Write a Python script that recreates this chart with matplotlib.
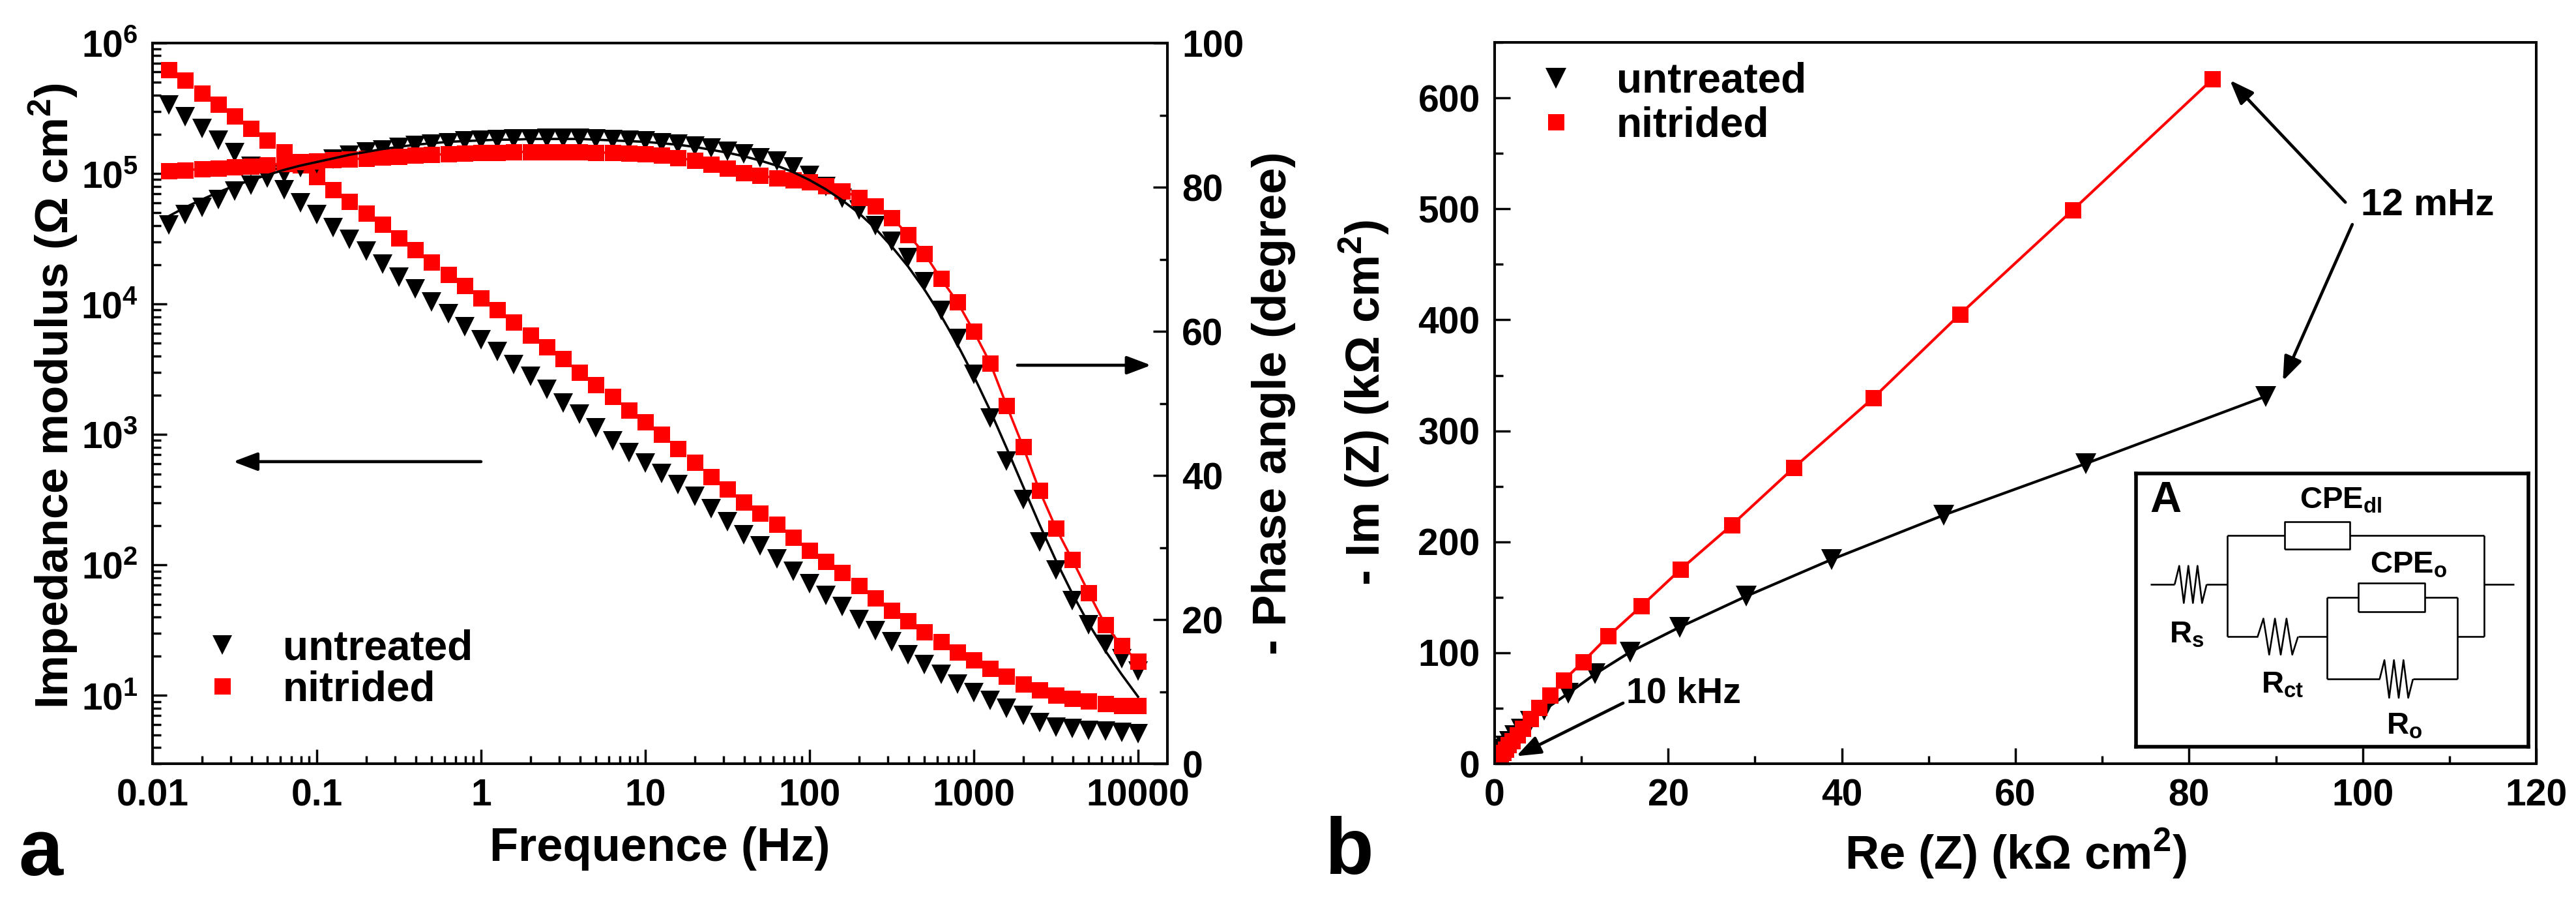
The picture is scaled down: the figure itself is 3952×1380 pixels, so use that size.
import matplotlib
matplotlib.use('Agg')
import matplotlib.pyplot as plt
from matplotlib.lines import Line2D
from matplotlib import ticker

plt.rcParams['font.family'] = ['Liberation Sans', 'DejaVu Sans']
plt.rcParams['font.weight'] = 'bold'
plt.rcParams['mathtext.fontset'] = 'custom'
plt.rcParams['mathtext.rm'] = 'Liberation Sans:bold'
plt.rcParams['mathtext.bf'] = 'Liberation Sans:bold'
plt.rcParams['mathtext.it'] = 'Liberation Sans:bold'
plt.rcParams['mathtext.sf'] = 'Liberation Sans'
plt.rcParams['mathtext.default'] = 'rm'

# --- Bode data (Hz, ohm cm2, degree) ---
freq = [0.0126, 0.0158, 0.02, 0.0251, 0.0316, 0.0398, 0.0501, 0.0631, 0.0794, 0.1,
        0.126, 0.158, 0.2, 0.251, 0.316, 0.398, 0.501, 0.631, 0.794, 1.0,
        1.26, 1.58, 2.0, 2.51, 3.16, 3.98, 5.01, 6.31, 7.94, 10.0,
        12.6, 15.8, 20.0, 25.1, 31.6, 39.8, 50.1, 63.1, 79.4, 100.0,
        126, 158, 200, 251, 316, 398, 501, 631, 794, 1000,
        1259, 1585, 1995, 2512, 3162, 3981, 5012, 6310, 7943, 10000]

mod_untreated = [3.36e5, 2.73e5, 2.22e5, 1.81e5, 1.44e5, 1.14e5, 9.25e4, 7.53e4, 5.97e4, 4.86e4,
                 3.85e4, 3.14e4, 2.55e4, 2.02e4, 1.61e4, 1.31e4, 1.04e4, 8430, 6700, 5310,
                 4320, 3430, 2790, 2210, 1750, 1430, 1130, 897, 731, 603,
                 501, 412, 336, 269, 214, 171, 140, 112, 89.5, 71.6,
                 58.6, 48.1, 38.4, 31.5, 25.8, 20.6, 17.3, 14.5, 12.2, 10.5,
                 9.12, 8.0, 7.05, 6.22, 5.75, 5.56, 5.43, 5.31, 5.19, 5.11]

mod_nitrided = [6.22e5, 5.2e5, 4.12e5, 3.4e5, 2.75e5, 2.22e5, 1.81e5, 1.47e5, 1.17e5, 9.5e4,
                7.53e4, 6.12e4, 4.99e4, 4.06e4, 3.22e4, 2.62e4, 2.1e4, 1.69e4, 1.38e4, 1.11e4,
                9020, 7230, 5790, 4670, 3800, 3010, 2420, 1950, 1540, 1250,
                1000, 776, 611, 475, 380, 304, 249, 204, 163, 130,
                107, 87.5, 69.8, 55.8, 44.7, 37.5, 30.7, 25.7, 21.6, 18.8,
                16.2, 14.0, 12.2, 11.0, 10.0, 9.5, 9.06, 8.61, 8.4, 8.32]

phase_untreated = [74.8, 76.2, 77.2, 78.3, 79.5, 80.3, 81.4, 81.9, 82.7, 83.3,
                   83.9, 84.4, 84.9, 85.2, 85.5, 85.8, 86.0, 86.2, 86.4, 86.5,
                   86.6, 86.7, 86.7, 86.8, 86.8, 86.8, 86.7, 86.6, 86.5, 86.4,
                   86.2, 86.0, 85.7, 85.4, 85.0, 84.6, 84.1, 83.6, 82.8, 81.6,
                   80.1, 78.5, 76.8, 74.7, 72.5, 70.2, 66.9, 62.9, 59.0, 54.0,
                   48.0, 42.0, 36.7, 30.8, 26.9, 22.6, 19.3, 16.6, 14.6, 12.9]

phase_untreated_fit = [76.0, 77.2, 78.3, 79.3, 80.2, 81.0, 81.7, 82.4, 83.0, 83.5,
                       84.0, 84.5, 84.9, 85.3, 85.6, 85.9, 86.1, 86.3, 86.4, 86.5,
                       86.6, 86.6, 86.7, 86.7, 86.7, 86.7, 86.6, 86.5, 86.4, 86.3,
                       86.1, 85.9, 85.6, 85.2, 84.8, 84.3, 83.7, 83.0, 82.1, 81.0,
                       79.7, 78.2, 76.4, 74.3, 71.8, 69.0, 65.8, 62.2, 58.2, 53.8,
                       49.0, 43.8, 38.5, 33.2, 28.2, 23.6, 19.4, 15.7, 12.4, 9.3]

phase_nitrided = [82.3, 82.4, 82.5, 82.6, 82.8, 82.9, 83.1, 83.3, 83.5, 83.6,
                  83.8, 83.9, 84.0, 84.2, 84.3, 84.4, 84.5, 84.6, 84.7, 84.8,
                  84.8, 84.9, 84.9, 84.9, 84.9, 84.9, 84.8, 84.8, 84.7, 84.6,
                  84.4, 84.1, 83.7, 83.2, 82.6, 82.0, 81.6, 81.3, 81.0, 80.7,
                  80.2, 79.5, 78.6, 77.4, 75.8, 73.4, 70.8, 67.3, 64.1, 60.0,
                  55.6, 49.7, 44.0, 37.9, 32.7, 28.3, 23.7, 19.3, 16.4, 14.2]

# --- Nyquist data (kohm cm2) ---
re_untreated = [0.05, 0.1, 0.15, 0.2, 0.3, 0.42, 0.56, 0.73, 0.96, 1.26, 1.7, 2.3,
                3.1, 4.1, 5.7, 8.5, 11.6, 15.6, 21.3, 29.0, 38.8, 51.7, 68.1, 88.8]
im_untreated = [0.5, 1.5, 2.5, 3.5, 5.3, 6.7, 8.4, 10.3, 13.0, 16.0, 20.0, 25.4,
                31.2, 38.5, 48.5, 63.5, 81.0, 100.6, 123, 151, 184, 224, 270.5, 331]
re_nitrided = [0.05, 0.1, 0.2, 0.3, 0.5, 0.7, 1.0, 1.3, 1.6, 2.0, 2.6, 3.2, 4.1,
               5.1, 6.4, 8.0, 10.2, 13.1, 16.9, 21.4, 27.3, 34.5, 43.6, 53.6, 66.6, 82.7]
im_nitrided = [0.5, 1.5, 2.5, 4.0, 5.5, 7.5, 10.0, 13.0, 16.8, 20.9, 26.0, 32.0, 40.5,
               50.5, 61.5, 75.5, 92.0, 115, 142, 175, 215, 267, 329.5, 405, 499, 617]

labels = ['untreated', 'nitrided']

RED = '#ff0000'
TICK_FS = 41
LABEL_FS = 52
LEG_FS = 46
SPINE_W = 2.9
OHM = r'$\mathsf{\Omega}$'

fig = plt.figure(figsize=(39.52, 13.8), dpi=100)


def style_spines(ax):
    for s in ax.spines.values():
        s.set_linewidth(SPINE_W)


# ---------------- panel a : Bode ----------------
ax = fig.add_axes([0.0592, 0.1514, 0.394, 0.8007])
ax.set_xscale('log')
ax.set_yscale('log')
h1, = ax.plot(freq, mod_untreated, 'v', color='k', ms=21, mew=0, label=labels[0])
h2, = ax.plot(freq, mod_nitrided, 's', color=RED, ms=18, mew=0, label=labels[1])
ax.set_xlim(0.01, 15100)
ax.set_ylim(3, 1e6)
ax.xaxis.set_major_locator(ticker.LogLocator(base=10, numticks=20))
ax.xaxis.set_minor_locator(ticker.LogLocator(base=10, subs=range(2, 10), numticks=20))
ax.xaxis.set_major_formatter(ticker.FuncFormatter(lambda v, p: f'{v:g}'))
ax.yaxis.set_major_locator(ticker.LogLocator(base=10, numticks=20))
ax.yaxis.set_minor_locator(ticker.LogLocator(base=10, subs=range(2, 10), numticks=20))
ax.tick_params(which='both', direction='in', top=False, right=False, width=2.5,
               labelsize=TICK_FS)
ax.tick_params(which='major', length=16)
ax.tick_params(which='minor', length=9)
ax.tick_params(axis='x', pad=16)
ax.tick_params(axis='y', pad=16)
ax.set_xlabel('Frequence (Hz)', fontsize=LABEL_FS, fontweight='bold', labelpad=14)
ax.set_ylabel('Impedance modulus (' + OHM + r' cm$^2$)', fontsize=51,
              fontweight='bold')
ax.yaxis.set_label_coords(-0.072, 0.51)
style_spines(ax)

axp = ax.twinx()
axp.plot(freq, phase_untreated, 'v', color='k', ms=21, mew=0)
axp.plot(freq, phase_nitrided, 's-', color=RED, ms=18, mew=0, lw=2.6)
axp.plot(freq, phase_untreated_fit, '-', color='k', lw=2.6)
axp.set_ylim(0, 100)
axp.yaxis.set_major_locator(ticker.MultipleLocator(20))
axp.yaxis.set_minor_locator(ticker.MultipleLocator(10))
axp.tick_params(which='both', direction='in', width=2.5, labelsize=TICK_FS, pad=16)
axp.tick_params(which='major', length=16)
axp.tick_params(which='minor', length=9)
axp.set_ylabel('- Phase angle (degree)', fontsize=LABEL_FS, fontweight='bold')
axp.yaxis.set_label_coords(1.083, 0.5)
style_spines(axp)

arrow_kw = dict(arrowstyle='-|>,head_length=0.45,head_width=0.17', lw=3.4,
                color='k', mutation_scale=50, shrinkA=0, shrinkB=0)
ax.annotate('', xy=(0.031, 620), xytext=(1.0, 620), arrowprops=arrow_kw)
axp.annotate('', xy=(12000, 55.3), xytext=(1845, 55.3), arrowprops=arrow_kw)

ax.legend(handles=[h1, h2], loc='upper left', bbox_to_anchor=(0.038, 0.187),
          frameon=False, fontsize=LEG_FS, handlelength=1.5, handletextpad=0.7,
          borderpad=0, borderaxespad=0, labelspacing=0.05)

# ---------------- panel b : Nyquist ----------------
bx = fig.add_axes([0.5802, 0.1514, 0.4044, 0.8014])
bx.plot(re_untreated, im_untreated, 'v-', color='k', ms=23, mew=0, lw=3)
bx.plot(re_nitrided, im_nitrided, 's-', color=RED, ms=18, mew=0, lw=3)
bx.set_xlim(0, 120)
bx.set_ylim(0, 650)
bx.xaxis.set_major_locator(ticker.MultipleLocator(20))
bx.xaxis.set_minor_locator(ticker.MultipleLocator(10))
bx.yaxis.set_major_locator(ticker.MultipleLocator(100))
bx.yaxis.set_minor_locator(ticker.MultipleLocator(50))
bx.tick_params(which='both', direction='in', top=False, right=False, width=2.5,
               labelsize=TICK_FS, pad=16)
bx.tick_params(which='major', length=17)
bx.tick_params(which='minor', length=9)
bx.set_xlabel('Re (Z) (k' + OHM + r' cm$^2$)', fontsize=LABEL_FS, fontweight='bold',
              labelpad=14)
bx.set_ylabel('- Im (Z) (k' + OHM + r' cm$^2$)', fontsize=LABEL_FS, fontweight='bold')
bx.yaxis.set_label_coords(-0.0995, 0.5)
style_spines(bx)

proxies = [Line2D([], [], ls='none', marker='v', color='k', ms=23, mew=0),
           Line2D([], [], ls='none', marker='s', color=RED, ms=18, mew=0)]
bx.legend(proxies, labels, loc='upper left', bbox_to_anchor=(0.029, 0.973),
          frameon=False, fontsize=LEG_FS, handlelength=1.5, handletextpad=0.7,
          borderpad=0, borderaxespad=0, labelspacing=0.12)

bx.annotate('', xy=(84.7, 616), xytext=(98.0, 506), arrowprops=arrow_kw)
bx.annotate('', xy=(90.8, 345), xytext=(98.8, 486), arrowprops=arrow_kw)
bx.text(99.8, 503, '12 mHz', fontsize=42, fontweight='bold', va='center', ha='left')
bx.annotate('', xy=(2.5, 6.8), xytext=(14.8, 54.7), arrowprops=arrow_kw)
bx.text(15.2, 63, '10 kHz', fontsize=40, fontweight='bold', va='center', ha='left')

# ---------------- inset : equivalent circuit ----------------
cx = fig.add_axes([0.8292, 0.1703, 0.1523, 0.3036])
cx.set_xlim(0, 1)
cx.set_ylim(0, 1)
cx.set_xticks([])
cx.set_yticks([])
for s in cx.spines.values():
    s.set_linewidth(4)
WIRE = dict(color='k', lw=1.9, solid_capstyle='butt')


def wire(xs, ys):
    cx.plot(xs, ys, **WIRE)


def resistor(x0, x1, y, amp):
    n = 7
    xs = [x0 + (x1 - x0) * k / n for k in range(n + 1)]
    ys = [y] + [y + amp if k % 2 else y - amp for k in range(1, n)] + [y]
    wire(xs, ys)


def element(x0, x1, y0, y1):
    wire([x0, x1, x1, x0, x0], [y0, y0, y1, y1, y0])


ym, yt, yb = 0.594, 0.773, 0.403
wire([0.037, 0.0985], [ym, ym])
resistor(0.0985, 0.18, ym, 0.068)
wire([0.18, 0.233], [ym, ym])
wire([0.233, 0.233], [yt, yb])
wire([0.233, 0.378], [yt, yt])
element(0.378, 0.545, 0.722, 0.823)
wire([0.545, 0.887], [yt, yt])
wire([0.887, 0.887], [yt, yb])
wire([0.887, 0.963], [ym, ym])
wire([0.233, 0.31], [yb, yb])
resistor(0.31, 0.413, yb, 0.066)
wire([0.413, 0.487], [yb, yb])
yit, yib = 0.5465, 0.248
wire([0.487, 0.487], [yit, yib])
wire([0.487, 0.567], [yit, yit])
element(0.567, 0.736, 0.495, 0.598)
wire([0.736, 0.819], [yit, yit])
wire([0.819, 0.819], [yit, yib])
wire([0.487, 0.621], [yib, yib])
resistor(0.621, 0.706, yib, 0.069)
wire([0.706, 0.819], [yib, yib])
wire([0.819, 0.887], [yb, yb])

cx.text(0.036, 0.90, 'A', fontsize=48, fontweight='bold', va='center', ha='left')
cx.text(0.522, 0.90, r'CPE$_{dl}$', fontsize=34, ha='center', va='center')
cx.text(0.695, 0.665, r'CPE$_{o}$', fontsize=34, ha='center', va='center')
cx.text(0.13, 0.41, r'R$_{s}$', fontsize=34, ha='center', va='center')
cx.text(0.373, 0.225, r'R$_{ct}$', fontsize=34, ha='center', va='center')
cx.text(0.684, 0.075, r'R$_{o}$', fontsize=34, ha='center', va='center')

# panel letters
fig.text(0.0073, 0.0275, 'a', fontsize=88, fontweight='bold', ha='left', va='baseline')
fig.text(0.5144, 0.0290, 'b', fontsize=88, fontweight='bold', ha='left', va='baseline')

fig.savefig('out.png', dpi=100)
